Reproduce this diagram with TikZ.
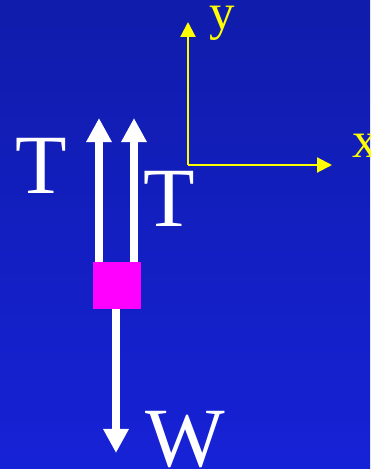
\documentclass[tikz,border=0pt]{standalone}
\usepackage{fontspec}
\setmainfont{Liberation Serif}
\usetikzlibrary{arrows.meta}
\definecolor{bgtop}{RGB}{16,28,170}
\definecolor{bgbot}{RGB}{22,34,214}
\definecolor{axisyellow}{RGB}{255,255,0}
\definecolor{boxmagenta}{RGB}{255,0,255}
\tikzset{
  force/.style={white,line width=4.6pt,-{Triangle[length=13.7pt,width=13.7pt]}},
  axis/.style={axisyellow,line width=1.2pt,-{Triangle[length=8.5pt,width=8.5pt]}},
  bigfont/.style={white,inner sep=0pt,anchor=base west,font=\fontsize{48}{48}\selectfont},
  axfont/.style={axisyellow,inner sep=0pt,anchor=base west,font=\fontsize{29}{29}\selectfont}
}
\begin{document}
\begin{tikzpicture}[x=0.02cm,y=-0.02cm]
% background
\shade[top color=bgtop,bottom color=bgbot] (0,0) rectangle (370,469);
\useasboundingbox (0,0) rectangle (370,469);

% Axes
\coordinate (origin) at (188,165);
\coordinate (ytip) at (188,22);
\coordinate (xtip) at (332,165);
\draw[axis] (origin) -- (ytip);
\draw[axis] (origin) -- (xtip);
\node[axfont] (ylab) at (209,30) {y};
\node[axfont] (xlab) at (352,158) {x};

% Mass
\node[fill=boxmagenta,minimum width=27.3pt,minimum height=26.7pt,inner sep=0pt] (mass) at (117,285.5) {};

% Tensions
\coordinate (t1tip) at (99,118);
\coordinate (t2tip) at (134,118);
\draw[force] (mass.north west -| t1tip) -- (t1tip);
\draw[force] (mass.north west -| t2tip) -- (t2tip);
\node[bigfont] (tlabA) at (15,194) {T};
\node[bigfont] (tlabB) at (143,227) {T};

% Weight
\coordinate (wtip) at (116,453);
\draw[force] (mass.south -| wtip) -- (wtip);
\node[bigfont] (wlab) at (145,466) {W};
\end{tikzpicture}
\end{document}
